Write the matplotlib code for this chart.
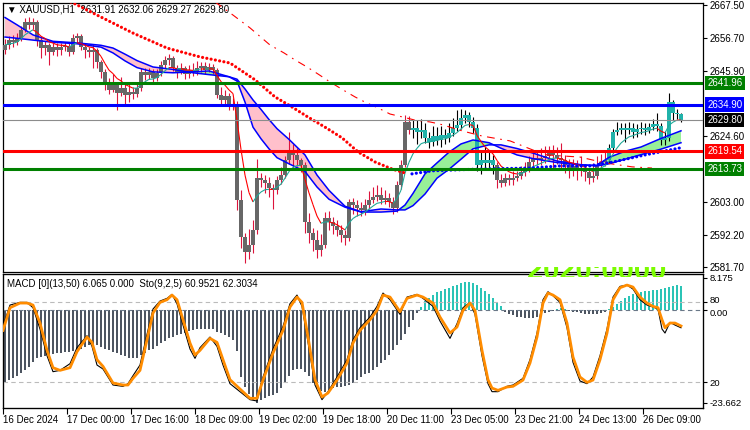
import numpy as np
import matplotlib
matplotlib.use('Agg')
import matplotlib.pyplot as plt
import matplotlib.transforms as mtransforms
from matplotlib.collections import LineCollection

plt.rcParams['font.family'] = ['Liberation Sans', 'DejaVu Sans']

# --- H1 candles ---
first_open = 2652.8
closes = [
    2654.4, 2656.0, 2655.4, 2656.7, 2659.3, 2661.9, 2661.0, 2661.9, 2656.0, 2653.4,
    2654.4, 2652.1, 2653.8, 2652.8, 2653.8, 2654.1, 2652.1, 2656.7, 2657.3, 2653.8,
    2652.8, 2652.1, 2652.8, 2648.8, 2645.6, 2641.3, 2639.7, 2641.6, 2638.7, 2640.3,
    2638.0, 2639.0, 2638.4, 2640.3, 2645.6, 2644.6, 2645.6, 2643.6, 2645.2, 2647.9,
    2649.5, 2650.1, 2646.9, 2645.6, 2646.9, 2644.9, 2646.2, 2645.6, 2646.9, 2647.5,
    2646.2, 2647.2, 2646.2, 2638.0, 2636.4, 2637.7, 2635.1, 2634.8, 2603.6, 2591.5,
    2586.6, 2588.9, 2593.8, 2610.9, 2610.2, 2609.2, 2607.6, 2606.9, 2610.2, 2611.8,
    2616.7, 2619.4, 2618.4, 2616.7, 2615.1, 2596.5, 2592.8, 2590.5, 2587.3, 2588.9,
    2597.8, 2596.5, 2595.1, 2593.8, 2592.2, 2591.2, 2603.0, 2602.0, 2601.0, 2600.4,
    2602.0, 2603.6, 2604.6, 2605.3, 2603.6, 2604.3, 2603.0, 2601.0, 2608.6, 2615.1,
    2629.2, 2626.6, 2627.2, 2625.9, 2626.6, 2623.9, 2622.6, 2624.6, 2623.3, 2624.9,
    2623.9, 2625.6, 2627.2, 2628.2, 2630.5, 2631.5, 2629.2, 2627.2, 2615.1, 2616.7,
    2615.8, 2616.7, 2615.1, 2610.2, 2609.2, 2610.9, 2610.2, 2610.9, 2611.5, 2612.8,
    2614.1, 2616.1, 2617.4, 2616.7, 2617.4, 2618.1, 2619.0, 2618.4, 2617.4, 2616.7,
    2615.1, 2614.1, 2614.8, 2613.5, 2614.1, 2612.8, 2610.9, 2611.5, 2615.1, 2616.1,
    2616.7, 2620.7, 2625.9, 2626.6, 2627.2, 2626.6, 2627.2, 2625.9, 2626.9, 2627.2,
    2626.6, 2627.5, 2628.5, 2627.9, 2623.3, 2623.9, 2635.7, 2632.1, 2631.9, 2629.8,
]
highs = [
    2656.2, 2657.5, 2657.8, 2658.2, 2660.6, 2663.4, 2663.6, 2663.2, 2662.5, 2657.0,
    2655.6, 2655.0, 2655.1, 2655.0, 2654.9, 2655.3, 2655.0, 2658.1, 2658.4, 2657.9,
    2654.9, 2653.9, 2654.6, 2653.5, 2649.6, 2646.4, 2643.5, 2644.8, 2642.4, 2643.9,
    2641.5, 2641.8, 2640.7, 2641.9, 2646.9, 2646.8, 2647.0, 2646.5, 2646.4, 2649.0,
    2650.8, 2651.6, 2650.8, 2648.0, 2648.5, 2647.6, 2647.8, 2648.6, 2649.0, 2648.9,
    2648.9, 2648.6, 2648.1, 2646.8, 2640.8, 2639.6, 2638.6, 2637.2, 2636.0, 2606.9,
    2593.0, 2594.0, 2597.0, 2617.0, 2612.6, 2611.8, 2611.2, 2609.0, 2611.5, 2614.6,
    2618.0, 2625.9, 2621.9, 2620.6, 2617.4, 2616.1, 2599.4, 2594.6, 2593.8, 2592.5,
    2599.7, 2600.0, 2598.0, 2597.1, 2595.6, 2593.7, 2604.0, 2604.3, 2603.6, 2603.0,
    2603.9, 2606.5, 2608.0, 2608.5, 2607.9, 2606.9, 2606.0, 2604.6, 2609.9, 2616.9,
    2631.5, 2631.0, 2630.0, 2629.9, 2630.3, 2628.7, 2625.8, 2628.0, 2627.5, 2627.8,
    2626.8, 2628.8, 2630.6, 2633.1, 2633.3, 2633.0, 2632.4, 2630.8, 2628.4, 2619.8,
    2621.0, 2619.9, 2618.5, 2616.0, 2612.2, 2612.5, 2612.3, 2613.2, 2613.3, 2614.9,
    2616.2, 2617.9, 2619.7, 2619.9, 2620.6, 2621.3, 2621.2, 2621.5, 2620.9, 2622.2,
    2618.3, 2617.0, 2617.2, 2616.9, 2618.0, 2615.3, 2614.0, 2615.6, 2617.9, 2618.8,
    2619.3, 2622.0, 2626.9, 2629.3, 2628.9, 2629.0, 2629.2, 2629.0, 2628.4, 2629.3,
    2628.9, 2629.0, 2630.1, 2632.2, 2628.8, 2626.1, 2638.7, 2636.4, 2633.4, 2632.06,
]
lows = [
    2651.5, 2653.0, 2653.9, 2654.5, 2655.8, 2658.5, 2659.6, 2659.8, 2654.2, 2650.3,
    2651.0, 2648.0, 2651.0, 2650.9, 2651.2, 2652.4, 2650.9, 2651.5, 2655.5, 2652.6,
    2650.2, 2650.6, 2646.8, 2647.0, 2643.5, 2639.5, 2638.2, 2638.9, 2633.0, 2637.6,
    2634.5, 2635.7, 2636.8, 2637.5, 2639.4, 2642.9, 2643.4, 2642.3, 2642.6, 2644.4,
    2647.0, 2647.9, 2645.8, 2643.6, 2644.9, 2643.2, 2643.6, 2644.3, 2644.7, 2645.4,
    2645.0, 2645.4, 2644.9, 2637.0, 2634.3, 2634.7, 2633.0, 2633.2, 2600.5, 2588.0,
    2583.0, 2584.4, 2586.2, 2592.5, 2607.9, 2606.0, 2604.6, 2600.7, 2605.5, 2608.8,
    2610.8, 2615.4, 2613.5, 2614.8, 2612.8, 2592.8, 2589.6, 2587.0, 2584.7, 2585.3,
    2587.9, 2593.8, 2592.6, 2591.9, 2590.0, 2589.0, 2590.2, 2599.0, 2598.5, 2598.4,
    2598.7, 2600.8, 2602.5, 2603.4, 2602.3, 2602.2, 2601.4, 2599.0, 2599.8, 2607.3,
    2614.4, 2625.3, 2624.0, 2622.0, 2624.1, 2622.3, 2620.6, 2621.2, 2621.6, 2621.0,
    2621.9, 2622.8, 2624.6, 2626.1, 2627.0, 2628.9, 2627.6, 2625.5, 2613.3, 2612.0,
    2613.7, 2614.2, 2612.2, 2607.6, 2607.8, 2608.1, 2608.6, 2608.5, 2609.8, 2610.5,
    2611.4, 2612.8, 2614.2, 2615.0, 2615.0, 2615.8, 2616.6, 2613.5, 2615.3, 2614.0,
    2612.4, 2610.9, 2611.6, 2610.2, 2611.5, 2609.9, 2608.8, 2609.7, 2610.6, 2613.9,
    2614.8, 2615.9, 2619.8, 2624.8, 2625.2, 2622.8, 2625.1, 2623.9, 2624.3, 2625.3,
    2625.0, 2625.6, 2626.6, 2626.3, 2621.5, 2621.8, 2623.0, 2630.0, 2630.2, 2629.27,
]
# bars drawn in the "up" colours
teal_runs = [(102, 122), (151, 169)]

# --- blue band (two averages) read at sample bars ---
band_x = [0, 3, 7, 12, 18, 24, 27, 30, 33, 37, 42, 47, 51, 56, 58, 60, 62, 64, 66, 68,
          71, 75, 78, 81, 85, 89, 94, 98, 100, 102, 105, 108, 111, 114, 117, 121, 124,
          128, 132, 138, 144, 148, 151, 155, 159, 164, 169]
band_slow = [2663.4, 2661.0, 2657.7, 2655.6, 2655.1, 2654.3, 2653.4, 2651.4, 2649.3, 2647.2,
             2646.4, 2645.3, 2644.7, 2644.0, 2643.2, 2640.0, 2636.4, 2633.3, 2630.0, 2627.0,
             2623.5, 2618.4, 2611.8, 2606.8, 2601.6, 2599.8, 2600.7, 2600.4, 2600.4, 2601.8,
             2605.6, 2610.8, 2613.7, 2617.0, 2620.4, 2621.7, 2621.7, 2620.5, 2619.0, 2616.4,
             2615.2, 2614.8, 2615.5, 2617.0, 2618.5, 2620.3, 2622.4]
band_fast = [2657.0, 2656.6, 2656.0, 2655.3, 2654.8, 2653.7, 2651.8, 2649.2, 2647.0, 2645.6,
             2645.3, 2645.6, 2645.9, 2644.0, 2642.6, 2635.7, 2627.5, 2623.7, 2620.4, 2617.5,
             2615.5, 2613.0, 2607.9, 2603.9, 2601.3, 2599.7, 2599.7, 2600.0, 2602.0, 2605.8,
             2612.2, 2615.8, 2619.3, 2622.0, 2623.3, 2622.4, 2620.6, 2618.4, 2617.2, 2615.9,
             2615.1, 2615.0, 2617.6, 2619.6, 2621.0, 2623.8, 2626.3]

# --- dotted average (red above price, blue below) ---
dots_red_x = [13.75, 17, 23, 32, 40.5, 48.75, 56.25, 62.5, 67.5, 71.75, 75.75, 80, 84.25,
              88.25, 92.5, 96.75, 100]
dots_red_y = [2669.8, 2668.2, 2664.2, 2658.3, 2653.4, 2650.5, 2648.5, 2643.0, 2637.4, 2634.1,
              2630.8, 2627.5, 2624.0, 2619.4, 2616.1, 2613.8, 2612.5]
dots_blue_x = [101.75, 106.75, 112.5, 119.5, 131.25, 138.75, 146.25, 152, 160, 168.75]
dots_blue_y = [2612.2, 2613.2, 2613.5, 2613.8, 2614.1, 2614.8, 2614.8, 2616.1, 2618.4, 2620.7]

# --- long dash-dot average ---
dd_x = [52.5, 57, 61.25, 66.25, 69.75, 72.5, 75.5, 78.25, 81.25, 84.5, 87.5, 90, 93.25, 96.25,
        99.5, 102.5, 106.25, 108.75, 111.25, 114.5, 119.25, 126.25, 132, 135.5, 143.75, 150,
        156.75, 161.75]
dd_y = [2668.5, 2664.2, 2660.0, 2654.4, 2651.8, 2649.5, 2647.2, 2644.9, 2642.3, 2639.7,
        2637.4, 2635.7, 2633.8, 2631.8, 2630.8, 2629.8, 2629.2, 2628.5, 2627.5, 2626.2,
        2624.6, 2623.0, 2620.0, 2618.4, 2617.7, 2615.8, 2614.5, 2614.1]

# --- horizontal levels ---
level_prices = [2641.96, 2634.90, 2619.54, 2613.73]
level_colors = ['#008000', '#0000FF', '#FF0000', '#008000']
last_price = 2629.80

# --- MACD histogram, one value per bar ---
macd = [
    -18.3, -17.9, -17.4, -16.8, -16.1, -15.3, -14.4, -13.2, -12.3, -11.9,
    -11.7, -11.5, -11.2, -11.0, -11.0, -10.8, -10.6, -10.4, -10.0, -9.8,
    -9.3, -9.0, -8.9, -9.0, -9.3, -9.8, -10.2, -10.6, -11.0, -11.5,
    -11.7, -12.1, -12.3, -12.1, -11.5, -11.0, -10.2, -9.8, -9.2, -8.3,
    -7.8, -7.2, -6.8, -6.4, -6.1, -5.8, -5.4, -5.1, -4.9, -4.8,
    -4.7, -4.7, -4.9, -5.5, -5.9, -6.4, -6.8, -7.6, -10.5, -17.0,
    -19.5, -21.4, -22.8, -23.66, -23.0, -22.4, -22.0, -21.7, -21.0, -19.8,
    -18.5, -16.8, -15.3, -14.9, -14.9, -15.8, -16.9, -18.5, -19.9, -20.6,
    -20.8, -20.4, -19.9, -19.7, -19.5, -19.4, -19.1, -18.5, -17.8, -17.0,
    -16.4, -15.9, -15.3, -14.4, -13.6, -12.6, -11.4, -10.2, -8.9, -7.6,
    -6.0, -4.2, -2.5, -0.8, 0.9, 2.2, 3.2, 3.9, 4.5, 4.9,
    5.3, 5.7, 6.1, 6.4, 6.8, 7.1, 7.1, 6.8, 6.4, 5.5,
    4.9, 4.1, 3.0, 2.1, 1.0, -0.6, -0.9, -1.3, -1.7, -1.8,
    -2.0, -2.1, -2.0, -1.7, -1.2, -0.8, -0.5, -0.2, 0.3, 0.5,
    0.4, -0.2, -0.4, -0.5, -0.7, -1.0, -1.1, -1.0, -0.9, -0.8,
    -0.5, 0.3, 0.9, 1.6, 2.2, 3.0, 3.6, 4.2, 4.5, 4.7,
    4.8, 4.9, 5.1, 5.2, 5.3, 5.6, 5.8, 6.1, 6.3, 6.065,
]

# --- stochastic, read at sample bars ---
sto_x = [-0.5, 1.25, 3.75, 5.5, 7, 8.75, 10.5, 12, 13.75, 16.25,
         18, 20.5, 21.75, 23, 24.5, 27, 29.5, 30.75, 32, 33.75,
         35.5, 37, 38.75, 40.5, 41.75, 43, 44.5, 46.25, 47.5, 48.75,
         51.25, 53, 54.5, 56.25, 58.75, 61.25, 63, 64.5, 67, 69.5,
         71.25, 73, 74.25, 75.75, 77.5, 79.25, 80.75, 83, 85.5, 87,
         88.75, 91.25, 93, 94.5, 96.25, 98.75, 100.5, 103, 104.5, 107,
         108.75, 111.25, 113, 114.5, 116.25, 117.5, 119.25, 120.75, 121.75, 123.25,
         125.5, 127, 129.5, 131.25, 133, 134.5, 135.75, 137, 138.75, 140.5,
         142, 143.75, 145.5, 147, 148.75, 150.5, 152, 153.75, 155.5, 157,
         158.75, 160.5, 162, 163.25, 164.25, 165, 166.25, 167.5, 169]
sto_d = [59, 76, 79.5, 79.5, 78, 64.5, 44, 31, 29, 31,
         43, 54, 50, 37, 32, 19.5, 18, 18, 23, 29,
         52, 72, 80, 82, 85.5, 82, 67, 49.5, 40.5, 44,
         53, 50, 37, 22, 15, 8, 8, 21.7, 42, 59,
         76.5, 84, 80, 54, 22, 9, 12, 21.7, 34.5, 49.5,
         59, 67, 74, 85.5, 84, 73, 83, 85.5, 84, 79.5,
         69, 57, 61.5, 74, 79.5, 74, 44, 22, 15.7, 14,
         16.5, 17, 21.7, 34.5, 54, 79.5, 87, 85.5, 82, 64.5,
         39, 24, 20, 21.7, 37, 57, 82, 91, 93, 91.5,
         84, 79.5, 77, 76, 67, 61, 64.5, 64.5, 62.3034]
sto_k = [62, 78, 80, 80, 76, 60, 40, 28, 29, 34,
         46, 55, 47, 33, 30, 18, 17, 19, 25, 33,
         56, 75, 81, 83, 86, 79, 63, 45, 38, 46,
         54, 47, 33, 19, 13, 7, 6, 24, 45, 62,
         79, 85.5, 77, 50, 18, 7, 13, 24, 37, 52,
         61, 69, 77, 87, 82, 71, 84, 86, 83, 77,
         66, 53, 64, 76, 80, 71, 40, 19, 13, 13,
         17, 18, 23, 37, 57, 82, 88, 85, 80, 61,
         35, 21, 19, 24, 40, 60, 84, 92, 93, 90,
         82, 78, 76.5, 75, 60, 57, 65, 63, 60.9521]

time_ticks = [-0.5, 15.5, 31.5, 47.5, 63.5, 79.5, 95.5, 111.5, 127.5, 143.5, 159.5]
time_labels = ['16 Dec 2024', '17 Dec 00:00', '17 Dec 16:00', '18 Dec 09:00', '19 Dec 02:00',
               '19 Dec 18:00', '20 Dec 11:00', '23 Dec 05:00', '23 Dec 21:00', '24 Dec 13:00',
               '26 Dec 09:00']
price_ticks = [2667.50, 2656.70, 2645.90, 2624.60, 2603.00, 2592.20, 2581.70]

# ---------------------------------------------------------------
W, H = 750, 430
def box(l, t, r, b):
    return [l / W, 1 - b / H, (r - l) / W, (b - t) / H]

fig = plt.figure(figsize=(7.5, 4.3), dpi=100)
ax = fig.add_axes(box(3, 3, 703, 272))
ax2 = fig.add_axes(box(3, 274, 703, 408))

n = len(closes)
x = np.arange(n)
c = np.array(closes)
o = np.r_[first_open, c[:-1]]
hi = np.array(highs)
lo = np.array(lows)

up = np.zeros(n, bool)
for a, b in teal_runs:
    up[a:b + 1] = True

# band fill
bx = np.array(band_x)
bs = np.array(band_slow)
bf = np.array(band_fast)
ax.fill_between(bx, bs, bf, where=bs >= bf, interpolate=True, color='#FFC0CB', lw=0, zorder=1)
ax.fill_between(bx, bs, bf, where=bs < bf, interpolate=True, color='#98F098', lw=0, zorder=1)

# candles
ax.vlines(x, lo, hi, colors=np.where(up, 'black', '#DC143C'), lw=0.8, zorder=3)
body_lo = np.minimum(o, c)
body_h = np.maximum(np.abs(c - o), 0.35)
ax.bar(x, body_h, 0.8, bottom=body_lo, color=np.where(up, '#20B2AA', '#676767'), lw=0,
       antialiased=False, zorder=4)

# band lines
ax.plot(bx, bs, color='#0000FF', lw=1.1, zorder=5)
ax.plot(bx, bf, color='#0000FF', lw=1.1, zorder=5)

# fast average, coloured by slope
ema = np.empty(n)
ema[0] = c[0]
for i in range(1, n):
    ema[i] = ema[i - 1] + 0.25 * (c[i] - ema[i - 1])
segs = [[(x[i], ema[i]), (x[i + 1], ema[i + 1])] for i in range(n - 1)]
seg_cols = ['#20A898' if ema[i + 1] > ema[i] else '#FF0000' for i in range(n - 1)]
ax.add_collection(LineCollection(segs, colors=seg_cols, linewidths=0.8, zorder=5))

# long averages
ax.plot(dd_x, dd_y, color='#FF0000', lw=0.8, ls=(0, (7, 5, 1.5, 5)), zorder=5)
ax.plot(dots_red_x, dots_red_y, color='#FF0000', lw=2.3, ls=(0, (0.01, 1.35)),
        dash_capstyle='round', zorder=6)
ax.plot(dots_blue_x, dots_blue_y, color='#0000FF', lw=2.3, ls=(0, (0.01, 1.35)),
        dash_capstyle='round', zorder=6)

# horizontal levels
ax.axhline(last_price, color='#8C8C8C', lw=0.8, zorder=6)
for p, col in zip(level_prices, level_colors):
    ax.axhline(p, color=col, lw=2.2, zorder=7)

ax.set_xlim(-0.5, 174.5)
ax.set_ylim(2580.07, 2668.15)
ax.yaxis.tick_right()
ax.set_yticks(price_ticks)
ax.set_yticklabels(['%.2f' % p for p in price_ticks])
ax.tick_params(axis='y', length=3, width=0.8, pad=2, labelsize=7)
ax.tick_params(axis='x', bottom=False, labelbottom=False)
for s in ax.spines.values():
    s.set_linewidth(0.9)

# price boxes
tr = mtransforms.blended_transform_factory(ax.transAxes, ax.transData)
for p, col in list(zip(level_prices, level_colors)) + [(last_price, 'black')]:
    ax.text(1.006, p, '%.2f' % p, transform=tr, ha='left', va='center', color='white',
            fontsize=7, clip_on=False, zorder=10,
            bbox=dict(boxstyle='square,pad=0.22', fc=col, ec='none'))

ax.text(0.006, 0.974, '\u25bc XAUUSD,H1  2631.91 2632.06 2629.27 2629.80',
        transform=ax.transAxes, fontsize=7, va='center', ha='left')

# ---- lower panel: MACD histogram + stochastic ----
m = np.array(macd)
ax2.bar(x, m, 0.72, color=np.where(m >= 0, '#2BC4B6', '#4D5561'), lw=0,
        antialiased=False, zorder=2)
ax2.axhline(0, color='#6A7888', lw=0.8, ls=(0, (4, 3)), zorder=3)
ax2.set_xlim(-0.5, 174.5)
ax2.set_ylim(-24.94, 9.19)
ax2.set_xticks(time_ticks)
ax2.set_xticklabels(time_labels, ha='left')
ax2.tick_params(axis='x', length=4, width=0.8, pad=1, labelsize=7)
for s in ax2.spines.values():
    s.set_linewidth(0.9)

ax3 = ax2.twinx()
ax3.set_ylim(0.75, 101.3)
for lv in (80, 20):
    ax3.axhline(lv, color='#BBBBBB', lw=0.8, ls=(0, (4, 3)), zorder=1)
ax3.plot(sto_x, sto_k, color='black', lw=0.8, zorder=3)
ax3.plot(sto_x, sto_d, color='#FF8C00', lw=2.0, zorder=4)
ax3.set_yticks([80, 20])
ax3.tick_params(axis='y', length=3, width=0.8, pad=2, labelsize=6.8)
ax3.set_xlim(-0.5, 174.5)

# twinx moves the first axis to the left, so put it back on the right
ax2.yaxis.tick_right()
ax2.set_yticks([8.175, 0, -23.662])
ax2.set_yticklabels(['8.175', '0.00', '-23.662'])
ax2.tick_params(axis='y', length=3, width=0.8, pad=2, labelsize=6.8)

# nudge the crowded "80" / "0.00" labels apart a little
ax3.get_yticklabels()[0].set_transform(ax3.get_yticklabels()[0].get_transform() +
                                       mtransforms.ScaledTranslation(0, 2 / 72, fig.dpi_scale_trans))
ax2.get_yticklabels()[1].set_transform(ax2.get_yticklabels()[1].get_transform() +
                                       mtransforms.ScaledTranslation(0, -2 / 72, fig.dpi_scale_trans))

ax2.text(0.006, 0.925, 'MACD [0](13,50) 6.065 0.000  Sto(9,2,5) 60.9521 62.3034',
         transform=ax2.transAxes, fontsize=7, va='center', ha='left', zorder=10)

# big lime label peeking in at the top of the lower panel
lime = fig.text(527 / W, 1 - 279 / H, '2020:0000', color='#7CFC00', fontsize=21,
                fontweight='bold', ha='left', va='baseline', zorder=20)
lime.set_clip_box(mtransforms.Bbox.from_extents(520, H - 277, 700, H - 267))
lime.set_clip_on(True)

fig.savefig('out.png', dpi=100)
